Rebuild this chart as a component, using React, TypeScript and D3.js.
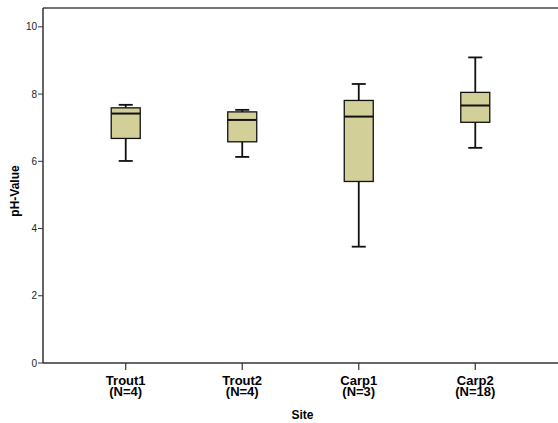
import React from "react";
import * as d3 from "d3";

const sites = ["Trout1", "Trout2", "Carp1", "Carp2"];
const counts = [4, 4, 3, 18];
const whiskerLow = [6.01, 6.13, 3.46, 6.4];
const q1 = [6.68, 6.58, 5.4, 7.16];
const medians = [7.42, 7.23, 7.33, 7.66];
const q3 = [7.59, 7.47, 7.81, 8.05];
const whiskerHigh = [7.68, 7.53, 8.3, 9.09];
const yTicks = [0, 2, 4, 6, 8, 10];

const W = 558;
const H = 423;
const left = 43;
const right = 558;
const top = 8;
const bottom = 363;

export default function App() {
  const x = d3.scalePoint<string>().domain(sites).range([left, right]).padding(0.71);
  const y = d3.scaleLinear().domain([0, 10.56]).range([bottom, top]);
  const boxW = 29;
  const capW = 14;
  const font = "Arial, 'Liberation Sans', sans-serif";
  return (
    <svg width={W} height={H} style={{ position: "absolute", left: 0, top: 0, background: "#fff" }}>
      <rect x={0} y={0} width={W} height={H} fill="#fff" />
      {/* frame */}
      <line x1={left} x2={right} y1={top} y2={top} stroke="#444" strokeWidth={1.5} />
      <line x1={left} x2={left} y1={top} y2={bottom} stroke="#333" strokeWidth={1.5} />
      <line x1={left} x2={right} y1={bottom} y2={bottom} stroke="#333" strokeWidth={1.5} />
      {/* y ticks */}
      {yTicks.map((t) => (
        <g key={t}>
          <line x1={left - 5} x2={left} y1={y(t)} y2={y(t)} stroke="#333" strokeWidth={1} />
          <text x={left - 6} y={y(t)} dy="0.35em" textAnchor="end" fontSize={10} fontFamily={font} fill="#222">
            {t}
          </text>
        </g>
      ))}
      <text
        transform={`translate(19, 191) rotate(-90)`}
        textAnchor="middle"
        fontSize={12}
        fontWeight="bold"
        fontFamily={font}
        fill="#000"
      >
        pH-Value
      </text>
      {/* x ticks */}
      {sites.map((s, i) => (
        <g key={s}>
          <line x1={x(s)!} x2={x(s)!} y1={bottom} y2={bottom + 7} stroke="#333" strokeWidth={1.2} />
          <text x={x(s)!} y={384.7} textAnchor="middle" fontSize={13} fontWeight="bold" fontFamily={font}>
            {s}
          </text>
          <text x={x(s)!} y={395.5} textAnchor="middle" fontSize={13} fontWeight="bold" fontFamily={font}>
            {`(N=${counts[i]})`}
          </text>
        </g>
      ))}
      <text x={(left + right) / 2 + 2} y={418.5} textAnchor="middle" fontSize={12} fontWeight="bold" fontFamily={font}>
        Site
      </text>
      {/* boxes */}
      {sites.map((s, i) => {
        const cx = x(s)!;
        return (
          <g key={"b" + s}>
            <line x1={cx} x2={cx} y1={y(whiskerHigh[i])} y2={y(q3[i])} stroke="#111" strokeWidth={1.8} />
            <line x1={cx} x2={cx} y1={y(q1[i])} y2={y(whiskerLow[i])} stroke="#111" strokeWidth={1.8} />
            <line x1={cx - capW / 2} x2={cx + capW / 2} y1={y(whiskerHigh[i])} y2={y(whiskerHigh[i])} stroke="#111" strokeWidth={1.8} />
            <line x1={cx - capW / 2} x2={cx + capW / 2} y1={y(whiskerLow[i])} y2={y(whiskerLow[i])} stroke="#111" strokeWidth={1.8} />
            <rect
              x={cx - boxW / 2}
              y={y(q3[i])}
              width={boxW}
              height={y(q1[i]) - y(q3[i])}
              fill="#D3CF98"
              stroke="#111"
              strokeWidth={1.3}
            />
            <line x1={cx - boxW / 2} x2={cx + boxW / 2} y1={y(medians[i])} y2={y(medians[i])} stroke="#111" strokeWidth={2} />
          </g>
        );
      })}
    </svg>
  );
}
